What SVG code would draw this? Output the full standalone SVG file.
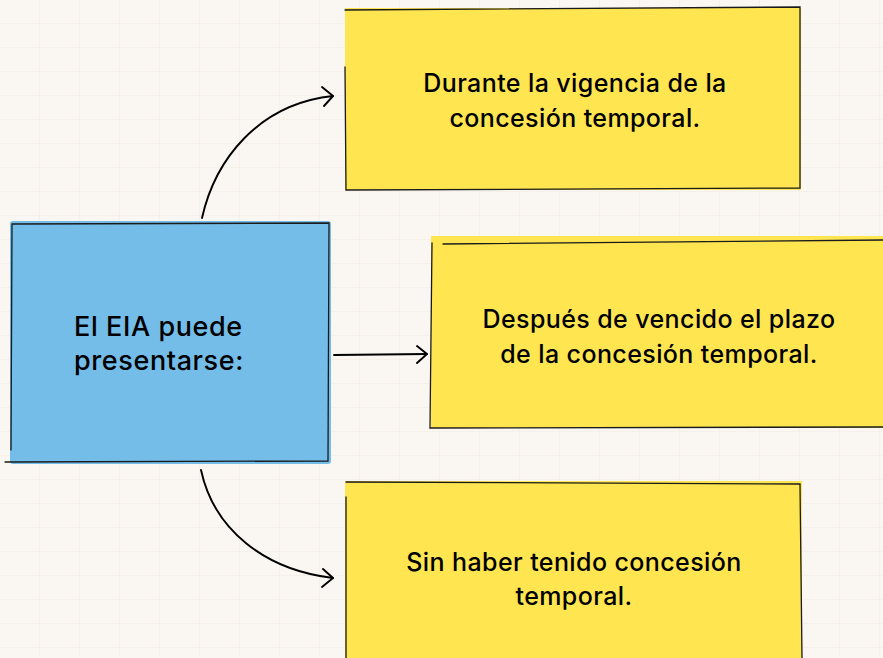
<svg xmlns="http://www.w3.org/2000/svg" width="883" height="658" viewBox="0 0 883 658">
<defs>
<style>
.edge{fill:none;stroke:#000;stroke-width:1.9;stroke-linecap:round;stroke-linejoin:round}
.outline{fill:none;stroke:#1a1a1a;stroke-width:1.3;stroke-linecap:round}
.yellow{fill:#FFE651}
.blue{fill:#74BDE9}
.t{font-family:"Inter","Liberation Sans",sans-serif;font-weight:500;font-size:25px;letter-spacing:0.4px;fill:#000}
.m{font-size:27px;letter-spacing:0.6px}
.c{text-anchor:middle}
</style>
<pattern id="grid" width="40" height="24" patternUnits="userSpaceOnUse">
<rect width="40" height="24" fill="#FAF7F3"/>
<path d="M0 23.5H40M39.5 0V24" stroke="#F5F0EA" stroke-width="1"/>
</pattern>
</defs>
<rect width="883" height="658" fill="url(#grid)"/>

<g id="connectors">
<path class="edge" d="M202 218 C 215 160 258 104 333 96"/>
<path class="edge" d="M322 87 L333 96 L324 106"/>
<path class="edge" d="M334 355 L427 354"/>
<path class="edge" d="M417 346 L427 354 L417 363"/>
<path class="edge" d="M201 470 C 214 530 265 570 333 578"/>
<path class="edge" d="M323 569 L333 578 L322 587"/>
</g>

<g id="node-main">
<rect class="blue" x="10" y="221" width="321" height="243" rx="3"/>
<path class="outline" d="M12 224 L329 223 L328 461 L5 462 M12 224 L11 450"/>
<text class="t m" x="74" y="336">El EIA puede</text>
<text class="t m" x="74" y="370">presentarse:</text>
</g>

<g id="node-durante">
<rect class="yellow" x="345" y="8" width="456" height="182"/>
<path class="outline" d="M345 10 L800 7 L800 188 L346 190 L345 67"/>
<text class="t c" x="575" y="92">Durante la vigencia de la</text>
<text class="t c" x="575" y="127">concesión temporal.</text>
</g>

<g id="node-despues">
<rect class="yellow" x="431" y="236" width="452" height="192"/>
<path class="outline" d="M443 244 L883 240 M432 243 L430 428 L883 427"/>
<text class="t c" x="659" y="328">Después de vencido el plazo</text>
<text class="t c" x="659" y="363">de la concesión temporal.</text>
</g>

<g id="node-sin">
<rect class="yellow" x="345" y="481" width="457" height="177"/>
<path class="outline" d="M346 482 L800 484 L802 658 M346 497 L346 658"/>
<text class="t c" x="574" y="571">Sin haber tenido concesión</text>
<text class="t c" x="574" y="605">temporal.</text>
</g>
</svg>
